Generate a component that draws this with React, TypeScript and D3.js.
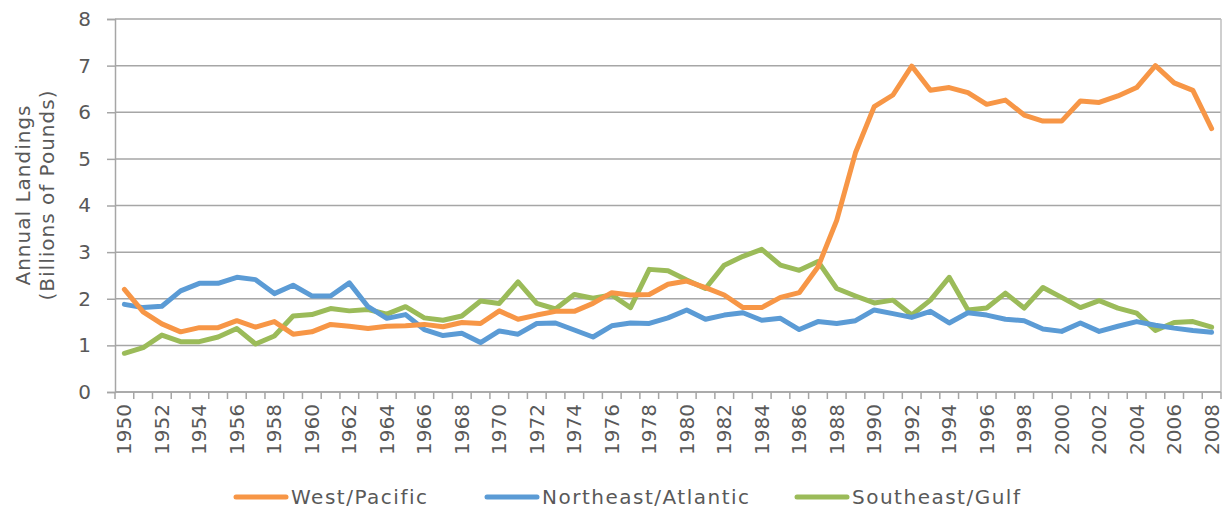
import React, { useEffect, useRef } from "react";
import * as d3 from "d3";

// years on the category axis
const years: number[] = d3.range(1950, 2009);

// billions of pounds
const westPacific: number[] = [
  2.2, 1.72, 1.46, 1.29, 1.38, 1.38, 1.53, 1.39, 1.51, 1.24,
  1.29, 1.45, 1.41, 1.36, 1.41, 1.42, 1.45, 1.4, 1.49, 1.47,
  1.74, 1.56, 1.65, 1.73, 1.73, 1.9, 2.13, 2.08, 2.09, 2.31,
  2.38, 2.24, 2.08, 1.81, 1.81, 2.03, 2.13, 2.68, 3.68, 5.13,
  6.12, 6.37, 6.99, 6.47, 6.53, 6.42, 6.17, 6.26, 5.94, 5.81,
  5.81, 6.24, 6.21, 6.35, 6.53, 7.0, 6.63, 6.47, 5.65,
];
const northeastAtlantic: number[] = [
  1.88, 1.81, 1.84, 2.17, 2.33, 2.33, 2.46, 2.41, 2.11, 2.29,
  2.06, 2.06, 2.34, 1.83, 1.58, 1.66, 1.34, 1.21, 1.26, 1.06,
  1.31, 1.24, 1.47, 1.48, 1.33, 1.18, 1.42, 1.48, 1.47, 1.59,
  1.76, 1.56, 1.65, 1.7, 1.54, 1.58, 1.34, 1.51, 1.47, 1.53,
  1.76, 1.68, 1.6, 1.73, 1.48, 1.7, 1.65, 1.56, 1.53, 1.35,
  1.3, 1.48, 1.3, 1.41, 1.51, 1.43, 1.37, 1.32, 1.28,
];
const southeastGulf: number[] = [
  0.83, 0.95, 1.22, 1.08, 1.08, 1.18, 1.36, 1.03, 1.2, 1.63,
  1.66, 1.79, 1.74, 1.77, 1.67, 1.83, 1.59, 1.54, 1.63, 1.95,
  1.9, 2.36, 1.9, 1.78, 2.09, 2.01, 2.08, 1.81, 2.63, 2.6,
  2.4, 2.22, 2.72, 2.91, 3.06, 2.72, 2.61, 2.8, 2.22, 2.06,
  1.91, 1.97, 1.65, 1.97, 2.46, 1.76, 1.8, 2.12, 1.8, 2.24,
  2.03, 1.81, 1.96, 1.8, 1.69, 1.32, 1.49, 1.51, 1.39,
];

const seriesNames: string[] = ["West/Pacific", "Northeast/Atlantic", "Southeast/Gulf"];
const seriesColors: string[] = ["#F79646", "#5B9BD5", "#9BBB59"];
const yTicks: number[] = [0, 1, 2, 3, 4, 5, 6, 7, 8];

const width = 1223;
const height = 510;
const font = "'DejaVu Sans', sans-serif";
const textColor = "#595959";

export default function App() {
  const ref = useRef<SVGSVGElement | null>(null);

  useEffect(() => {
    const svg = d3.select(ref.current);
    svg.selectAll("*").remove();

    const x = d3.scaleBand<number>().domain(years).range([115, 1221]);
    const y = d3.scaleLinear().domain([0, 8]).range([392, 19]);
    const cx = (yr: number) => (x(yr) as number) + x.bandwidth() / 2;

    // horizontal gridlines
    svg.append("g")
      .selectAll("line")
      .data(yTicks)
      .enter()
      .append("line")
      .attr("x1", 115)
      .attr("x2", 1221)
      .attr("y1", (d) => y(d))
      .attr("y2", (d) => y(d))
      .attr("stroke", "#A6A6A6")
      .attr("stroke-width", 1.5);

    // right border of the plot area
    svg.append("line")
      .attr("x1", 1221).attr("x2", 1221)
      .attr("y1", y(8)).attr("y2", y(0))
      .attr("stroke", "#BFBFBF").attr("stroke-width", 1.5);

    // left axis
    const yAxis = svg.append("g")
      .attr("transform", "translate(115,0)")
      .call(d3.axisLeft(y).tickValues(yTicks).tickSize(8).tickPadding(16).tickFormat(d3.format("d")));
    yAxis.select(".domain").attr("stroke", "#A6A6A6").attr("stroke-width", 1.5);
    yAxis.selectAll(".tick line").attr("stroke", "#A6A6A6").attr("stroke-width", 1.5);
    yAxis.selectAll(".tick text")
      .attr("fill", textColor)
      .style("font-family", font)
      .style("font-size", "20px");

    // bottom axis: ticks between categories
    const xAxis = svg.append("g").attr("transform", `translate(0,${y(0)})`);
    xAxis.append("line")
      .attr("x1", 115).attr("x2", 1221)
      .attr("stroke", "#A6A6A6").attr("stroke-width", 1.5);
    xAxis.selectAll("line.tk")
      .data(years.concat([2009]))
      .enter()
      .append("line")
      .attr("class", "tk")
      .attr("x1", (d, i) => 115 + i * x.step())
      .attr("x2", (d, i) => 115 + i * x.step())
      .attr("y1", 0)
      .attr("y2", 7)
      .attr("stroke", "#A6A6A6")
      .attr("stroke-width", 1.5);
    xAxis.selectAll("text")
      .data(years.filter((d) => d % 2 === 0))
      .enter()
      .append("text")
      .text((d) => d)
      .attr("transform", (d) => `translate(${cx(d) + 7},12) rotate(-90)`)
      .attr("text-anchor", "end")
      .attr("fill", textColor)
      .style("font-family", font)
      .style("font-size", "20px");

    // y axis title
    const title = svg.append("g").attr("transform", "translate(0,195) rotate(-90)");
    title.append("text").text("Annual Landings")
      .attr("x", 0).attr("y", 30)
      .attr("text-anchor", "middle").attr("fill", textColor)
      .style("font-family", font).style("font-size", "20px")
      .style("letter-spacing", "1px");
    title.append("text").text("(Billions of Pounds)")
      .attr("x", 0).attr("y", 54)
      .attr("text-anchor", "middle").attr("fill", textColor)
      .style("font-family", font).style("font-size", "20px")
      .style("letter-spacing", "1px");

    // lines
    const allSeries = [westPacific, northeastAtlantic, southeastGulf];
    const line = d3.line<number>()
      .x((d, i) => cx(years[i]))
      .y((d) => y(d));
    // green under blue under orange, as in the original
    [2, 1, 0].forEach((k) => {
      svg.append("path")
        .datum(allSeries[k])
        .attr("d", line)
        .attr("fill", "none")
        .attr("stroke", seriesColors[k])
        .attr("stroke-width", 5)
        .attr("stroke-linejoin", "round")
        .attr("stroke-linecap", "round");
    });

    // legend
    const legendX = [236, 487, 797];
    const lg = svg.append("g").attr("transform", "translate(0,497)");
    seriesNames.forEach((name, i) => {
      lg.append("line")
        .attr("x1", legendX[i]).attr("x2", legendX[i] + 50)
        .attr("stroke", seriesColors[i]).attr("stroke-width", 5)
        .attr("stroke-linecap", "round");
      lg.append("text").text(name)
        .attr("x", legendX[i] + 55).attr("y", 7)
        .attr("fill", textColor)
        .style("font-family", font).style("font-size", "20px")
        .style("letter-spacing", "1.5px");
    });
  }, []);

  return (
    <svg
      ref={ref}
      width={width}
      height={height}
      style={{ position: "absolute", left: 0, top: 0, background: "#fff" }}
    />
  );
}
